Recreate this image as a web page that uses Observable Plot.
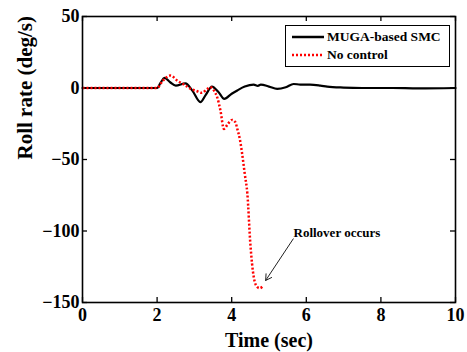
<!DOCTYPE html>
<html>
<head>
<meta charset="utf-8">
<script src="https://cdn.jsdelivr.net/npm/d3@7"></script>
<script src="https://cdn.jsdelivr.net/npm/@observablehq/plot@0.6"></script>
<style>
  body { margin: 0; background: #fff; }
  #wrap { position: relative; width: 467px; height: 352px; }
  #legend { position: absolute; left: 285px; top: 25px; width: 163px; height: 40px;
    border: 1.5px solid #000; background: #fff; font: bold 13.5px "Liberation Serif", serif; }
  .row { position: absolute; left: 6px; display: flex; align-items: center; }
  .row svg { margin-right: 3px; }
  svg text { font-weight: bold; }
</style>
</head>
<body>
<div id="wrap"></div>
<script>
// Time (s) and roll rate (deg/s)
const smcT = [0, 1.0, 2.0, 2.1, 2.2, 2.35, 2.5, 2.76, 2.95, 3.16, 3.3, 3.47, 3.65, 3.8, 4.0, 4.15, 4.35, 4.59, 4.7, 4.78, 5.0, 5.22, 5.45, 5.66, 5.84, 6.1, 6.38, 6.56, 7.0, 7.5, 8.3, 9.0, 10.0];
const smcY = [0, 0, 0, 4, 7.1, 4, 1.7, 3.3, -2, -9.9, -5, 1, -3, -7.6, -4, -1.7, 1, 2.4, 1.5, 2.4, 1, -0.6, 0.5, 2.8, 2.4, 2.4, 1.7, 1, 0.3, 0, 0, -0.3, 0];
const ncT = [0, 1.0, 2.0, 2.15, 2.36, 2.55, 2.75, 2.9, 3.05, 3.2, 3.33, 3.43, 3.53, 3.61, 3.7, 3.79, 3.9, 4.01, 4.1, 4.15, 4.22, 4.28, 4.35, 4.42, 4.5, 4.59, 4.68, 4.75, 4.82];
const ncY = [0, 0, 0, 5, 8.7, 5, 2, -0.6, -2, -3.4, -1, 0.6, -2, -6.4, -16, -28.6, -25, -22.3, -24, -28.6, -36, -46, -60, -74, -109, -132, -139, -140, -139];
const xTicks = [0, 2, 4, 6, 8, 10];
const yTicks = [50, 0, -50, -100, -150];
const seriesNames = ["MUGA-based SMC", "No control"];
const noteText = "Rollover occurs";
const note = {x: 6.82, y: -101, ax1: 5.65, ay1: -105.5, ax2: 4.91, ay2: -134.6};

const smc = smcT.map((t, i) => ({t, y: smcY[i]}));
const nc = ncT.map((t, i) => ({t, y: ncY[i]}));

const W = 467, H = 352, mL = 82, mR = 12, mT = 16, mB = 50;
const ih = H - mT - mB, iw = W - mL - mR;
const font = '"Liberation Serif", "Times New Roman", serif';

const chart = Plot.plot({
  width: W, height: H,
  marginLeft: mL, marginRight: mR, marginTop: mT, marginBottom: mB,
  style: {fontFamily: font, fontWeight: "bold", fontSize: "18px", color: "#000", background: "#fff"},
  x: {domain: [0, 10], ticks: xTicks, label: null},
  y: {domain: [-150, 50], ticks: yTicks, label: null},
  marks: [
    Plot.axisX({ticks: xTicks, tickSize: 0, tickPadding: 6, fontSize: 18, fontWeight: "bold"}),
    Plot.axisY({ticks: yTicks, tickSize: 0, tickPadding: 3, fontSize: 18, fontWeight: "bold"}),
    Plot.tickX(xTicks, {x: d => d, insetTop: ih - 5, stroke: "#000", strokeWidth: 1.3}),
    Plot.tickX(xTicks, {x: d => d, insetBottom: ih - 5, stroke: "#000", strokeWidth: 1.3}),
    Plot.tickY(yTicks, {y: d => d, insetRight: iw - 5, stroke: "#000", strokeWidth: 1.3}),
    Plot.tickY(yTicks, {y: d => d, insetLeft: iw - 5, stroke: "#000", strokeWidth: 1.3}),
    Plot.line(smc, {x: "t", y: "y", stroke: "#000", strokeWidth: 2.2, curve: "monotone-x"}),
    Plot.line(nc, {x: "t", y: "y", stroke: "#ff0000", strokeWidth: 2.5, strokeDasharray: "2,2", strokeLinecap: "butt", curve: "monotone-x"}),
    Plot.arrow([note], {x1: "ax1", y1: "ay1", x2: "ax2", y2: "ay2", stroke: "#222", strokeWidth: 1, headLength: 10}),
    Plot.text([note], {x: "x", y: "y", text: () => noteText, fontSize: 13, fontWeight: "bold", fill: "#000"}),
    Plot.frame({stroke: "#000", strokeWidth: 1.6}),
    Plot.text(["Time (sec)"], {frameAnchor: "bottom", lineAnchor: "middle", dy: 38, text: d => d, fontSize: 20, fontWeight: "bold"}),
    Plot.text(["Roll rate (deg/s)"], {frameAnchor: "left", dx: -57, rotate: -90, text: d => d, fontSize: 21, fontWeight: "bold"})
  ]
});
const wrap = document.getElementById("wrap");
wrap.appendChild(chart);

const legend = document.createElement("div");
legend.id = "legend";
legend.innerHTML = `
  <div class="row" style="top:3px"><svg width="32" height="12"><line x1="0" y1="6" x2="32" y2="6" stroke="#000" stroke-width="2.5"/></svg>${seriesNames[0]}</div>
  <div class="row" style="top:21px"><svg width="32" height="12"><line x1="0" y1="6" x2="32" y2="6" stroke="#ff0000" stroke-width="2.5" stroke-dasharray="2,2"/></svg>${seriesNames[1]}</div>`;
wrap.appendChild(legend);
</script>
</body>
</html>
